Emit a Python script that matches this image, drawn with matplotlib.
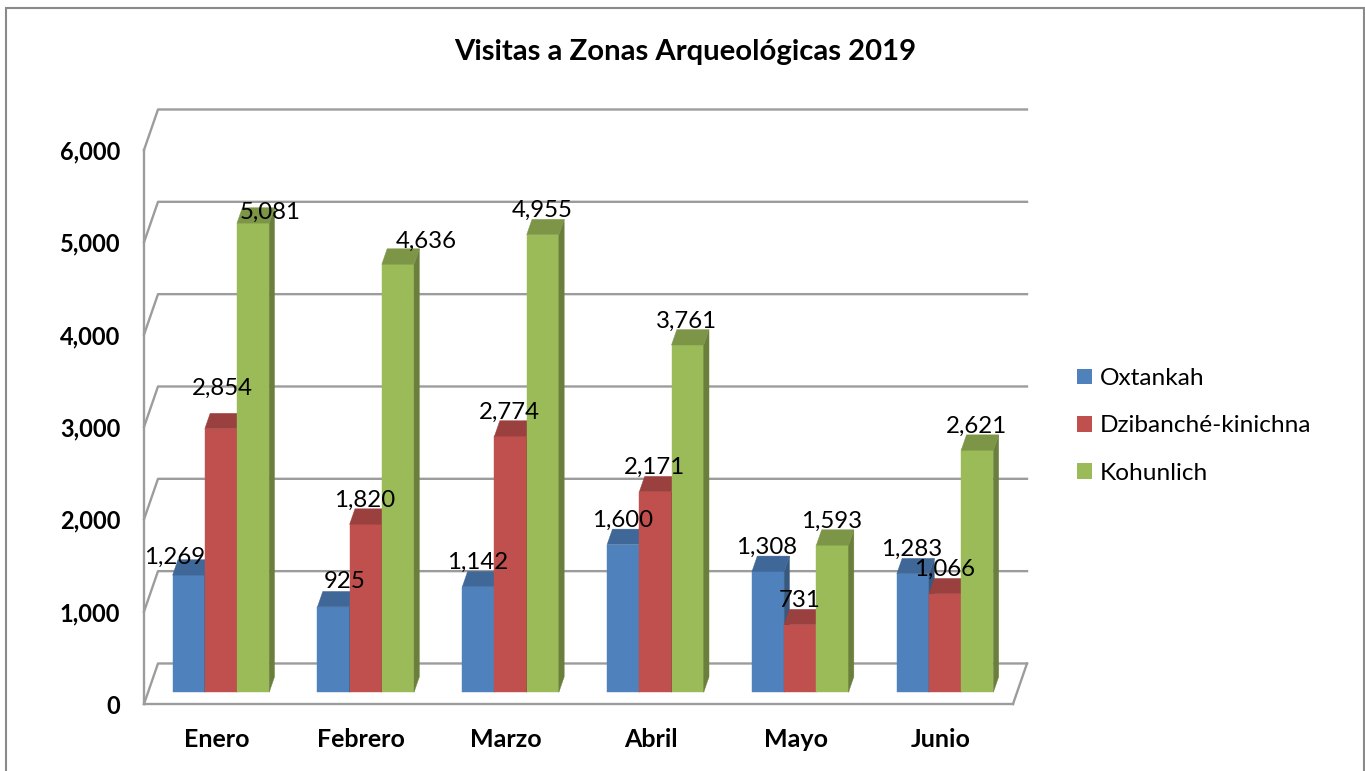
import matplotlib
matplotlib.use('Agg')
import matplotlib.pyplot as plt
from matplotlib.patches import Patch, Rectangle

# Datos
meses = ['Enero', 'Febrero', 'Marzo', 'Abril', 'Mayo', 'Junio']
oxtankah = [1269, 925, 1142, 1600, 1308, 1283]
dzibanche = [2854, 1820, 2774, 2171, 731, 1066]
kohunlich = [5081, 4636, 4955, 3761, 1593, 2621]
nombres = ['Oxtankah', 'Dzibanché-kinichna', 'Kohunlich']
ticks_y = [0, 1000, 2000, 3000, 4000, 5000, 6000]

# Colores: frente, tapa, lado
colores = [('#4f81bd', '#3f6797', '#37597f'),
           ('#c0504d', '#9a403e', '#863836'),
           ('#9bbb59', '#7c9547', '#6b7f3d')]
gris = '#9c9c9c'
W, H = 1365, 771

# Profundidad del falso 3D, en unidades de datos
DX = 14 / 144.8
DY = 40.5 / 0.0923
D0, D1 = 0.29, 0.67
ANCHO = 1 / 4.5

fig = plt.figure(figsize=(W / 100, H / 100), dpi=100)
fig.patch.set_facecolor('white')
plt.rcParams['font.family'] = ['Lato', 'DejaVu Sans']
ax = fig.add_axes([144 / W, (H - 704) / H, 869 / W, 554 / H])
ax.set_facecolor('none')

# Marco exterior
fig.add_artist(Rectangle((6 / W, -0.02), 1357.5 / W, 1.02 - 8 / H, transform=fig.transFigure,
                         fill=False, edgecolor='#8a8a8a', linewidth=1.5))

# Paredes y piso
for t in ticks_y:
    ax.plot([0, DX, 6 + DX], [t, t + DY, t + DY], color=gris, lw=1.7, clip_on=False, zorder=1)
ax.plot([6, 6 + DX], [0, DY], color=gris, lw=1.7, clip_on=False, zorder=1)

# Barras
offsets = {(0, 0): (-14, 18), (1, 0): (11, 25), (0, 1): (1, 40), (0, 2): (17, 11), (1, 2): (28, 23)}
for s, valores in enumerate([oxtankah, dzibanche, kohunlich]):
    frente, tapa, lado = colores[s]
    z = 2 + s
    for i, v in enumerate(valores):
        x0 = i + 0.5 - 1.5 * ANCHO + s * ANCHO + D0 * DX + 0.003
        x1 = x0 + ANCHO
        base = D0 * DY
        top = base + v
        d = (D1 - D0)
        ax.bar(x0, v, ANCHO, bottom=base, align='edge', color=frente, edgecolor=frente, linewidth=0.3, zorder=z)
        ax.fill([x1, x1 + d * DX, x1 + d * DX, x1], [base, base + d * DY, top + d * DY, top],
                color=lado, linewidth=0.3, clip_on=False, zorder=z)
        ax.fill([x0, x1, x1 + d * DX, x0 + d * DX], [top, top, top + d * DY, top + d * DY],
                color=tapa, linewidth=0.3, clip_on=False, zorder=z)
        ox, oy = offsets.get((i, s), (-1, 24))
        ax.annotate(f'{v:,}', xy=((x0 + x1) / 2, top), xytext=(ox * 0.72, oy * 0.72), textcoords='offset points',
                    ha='center', va='center', fontsize=17.3, color='black', zorder=10)

ax.set_xlim(0, 6)
ax.set_ylim(0, 6000)
ax.set_xticks([i + 0.5 for i in range(6)])
ax.set_xticklabels(meses, fontsize=18, fontweight='bold')
ax.set_yticks(ticks_y)
ax.set_yticklabels([f'{t:,}' for t in ticks_y], fontsize=17, fontweight='bold')
ax.tick_params(axis='both', length=0)
ax.tick_params(axis='x', pad=17)
ax.tick_params(axis='y', pad=17)
for lado_ax in ['top', 'right']:
    ax.spines[lado_ax].set_visible(False)
for lado_ax in ['left', 'bottom']:
    ax.spines[lado_ax].set_color(gris)
    ax.spines[lado_ax].set_linewidth(1.7)

fig.text(685.5 / W, 1 - 52 / H, 'Visitas a Zonas Arqueológicas 2019', ha='center', va='center',
         fontsize=21.1, fontweight='bold')

# Leyenda
handles = [Patch(color=colores[k][0], linewidth=0) for k in range(3)]
fig.legend(handles, nombres, loc='center left', bbox_to_anchor=(1055 / W, 1 - 426 / H), frameon=False,
           fontsize=17.6, handlelength=0.62, handleheight=0.62, handletextpad=0.3, labelspacing=1.08)

fig.savefig('out.png', dpi=100)
